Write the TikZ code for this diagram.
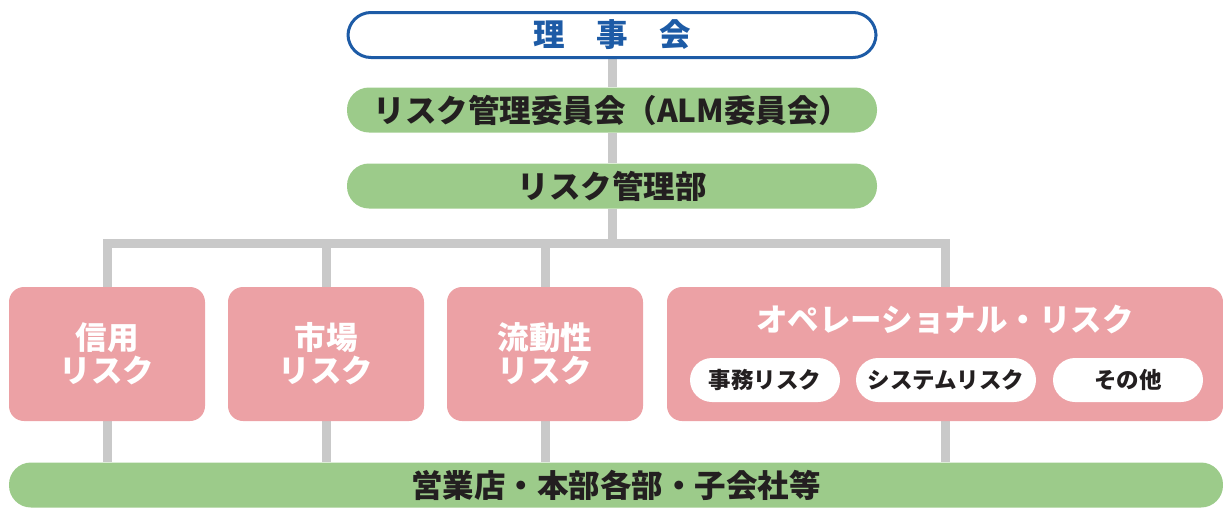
\documentclass[tikz,border=0pt]{standalone}
\usepackage{fontspec}
\usetikzlibrary{backgrounds}
\setmainfont{Noto Sans CJK JP}[BoldFont={Noto Sans CJK JP Black}]
\definecolor{boardblue}{HTML}{1D5BA6}
\definecolor{leafgreen}{HTML}{9CCB8A}
\definecolor{riskpink}{HTML}{ECA1A5}
\definecolor{linkgray}{HTML}{C9C9C9}
\definecolor{inkdark}{HTML}{231F20}
\begin{document}
\begin{tikzpicture}[x=1pt,y=-1pt]
\tikzstyle{every node}=[font=\bfseries\fontsize{31.5}{33}\selectfont, inner sep=0pt]
\tikzstyle{pill}=[fill=leafgreen, text=inkdark, rounded corners=22pt, minimum width=530pt, minimum height=45pt]
\tikzstyle{riskbox}=[fill=riskpink, text=white, rounded corners=15pt, minimum height=134pt, align=center]
\tikzstyle{subpill}=[fill=white, text=inkdark, rounded corners=22pt, minimum height=44pt, font=\bfseries\fontsize{22.5}{24}\selectfont]
\tikzstyle{link}=[linkgray, line width=9pt]
	\useasboundingbox (0,0) rectangle (1223,507);

	\node[draw=boardblue, line width=3pt, fill=white, text=boardblue, rounded corners=23pt, minimum width=528pt, minimum height=45pt] (board) at (612,35) {理\hspace{1em}事\hspace{1em}会};
	\node[pill] (alm) at (612,110) {リスク管理委員会（ALM委員会）};
	\node[pill] (dept) at (612,186) {リスク管理部};
	\coordinate (bar) at (612,243);

	\node[riskbox, minimum width=196pt] (credit) at (107,354) {信用\\リスク};
	\node[riskbox, minimum width=196pt] (market) at (326,354) {市場\\リスク};
	\node[riskbox, minimum width=196pt] (liquid) at (545,354) {流動性\\リスク};
	\node[riskbox, minimum width=556pt] (oprisk) at (945,354) {};
	\node[text=white] (optitle) at (945,320) {オペレーショナル・リスク};
	\node[subpill, minimum width=150pt] (clerical) at (765,380) {事務リスク};
	\node[subpill, minimum width=180pt] (system) at (946,380) {システムリスク};
	\node[subpill, minimum width=150pt] (other) at (1128,380) {その他};

	\node[pill, minimum width=1214pt] (branch) at (616,485) {営業店・本部各部・子会社等};

	% gray links behind the boxes
	\begin{scope}[on background layer]
	\draw[link] (board) -- (alm);
	\draw[link] (alm) -- (dept);
	\draw[link] (dept) -- (bar);
	\draw[link] (credit.north) |- (bar) -| (oprisk.north);
	\draw[link] (market.north) -- (market.north |- bar);
	\draw[link] (liquid.north) -- (liquid.north |- bar);
	\foreach \b in {credit,market,liquid,oprisk} {
		\draw[link] (\b.south) -- (\b.south |- branch.north);
	}
	\end{scope}
\end{tikzpicture}
\end{document}
